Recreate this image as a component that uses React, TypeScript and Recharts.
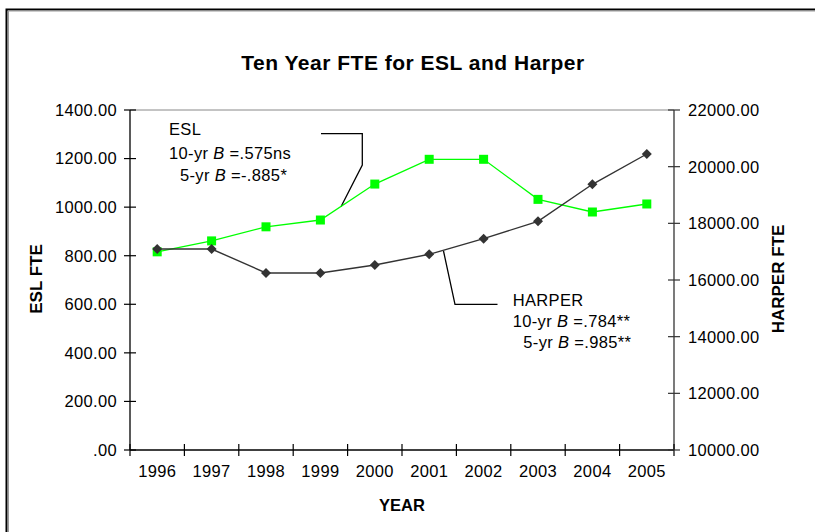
import React from 'react';
import { LineChart, Line, XAxis, YAxis, ReferenceLine } from 'recharts';

const years = ['1996', '1997', '1998', '1999', '2000', '2001', '2002', '2003', '2004', '2005'];
const eslFte = [816, 861, 919, 947, 1095, 1197, 1197, 1032, 980, 1013];
const harperFte = [17094, 17094, 16247, 16247, 16529, 16907, 17458, 18072, 19378, 20447];
const eslTicks = [0, 200, 400, 600, 800, 1000, 1200, 1400];
const harperTicks = [10000, 12000, 14000, 16000, 18000, 20000, 22000];

const data = years.map((year, i) => ({ year, esl: eslFte[i], harper: harperFte[i] }));

const W = 815;
const H = 532;
const MARGIN = { top: 110, right: 61, bottom: 52, left: 50 };
const YW = 80;
const XH = 30;
const PLOT_LEFT = MARGIN.left + YW;
const PLOT_RIGHT = W - MARGIN.right - YW;
const HALF_BAND = (PLOT_RIGHT - PLOT_LEFT) / years.length / 2;
const TICK = 6;
const FONT = '"Liberation Sans", Arial, sans-serif';

const fmt = (v: number) => (v === 0 ? '.00' : v.toFixed(2));

const textStyle = { fontFamily: FONT, fontSize: 16.5, letterSpacing: 0.35, fill: '#000' } as any;

const LeftTick = (props: any) => {
  const { x, y, payload } = props;
  const ax = x + 7 + TICK;
  return (
    <g>
      <line x1={ax - TICK} x2={ax + TICK} y1={y} y2={y} stroke="#000" strokeWidth={1.2} />
      <text x={x} y={y} dy="0.355em" textAnchor="end" style={textStyle}>{fmt(payload.value)}</text>
    </g>
  );
};

const RightTick = (props: any) => {
  const { x, y, payload } = props;
  const ax = x - 8 - TICK;
  return (
    <g>
      <line x1={ax - TICK} x2={ax + TICK} y1={y} y2={y} stroke="#333" strokeWidth={1.2} />
      <text x={x} y={y} dy="0.355em" textAnchor="start" style={textStyle}>{fmt(payload.value)}</text>
    </g>
  );
};

const BottomTick = (props: any) => {
  const { x, y, payload, index } = props;
  const ay = y - 15 - TICK;
  return (
    <g>
      <line x1={x - HALF_BAND} x2={x - HALF_BAND} y1={ay - TICK} y2={ay + TICK} stroke="#000" strokeWidth={1.2} />
      {index === years.length - 1 ? (
        <line x1={x + HALF_BAND} x2={x + HALF_BAND} y1={ay - TICK} y2={ay + TICK} stroke="#000" strokeWidth={1.2} />
      ) : null}
      <text x={x} y={y} dy="0.355em" textAnchor="middle" style={textStyle}>{payload.value}</text>
    </g>
  );
};

const SquareDot = (props: any) => {
  const { cx, cy, index } = props;
  if (cx == null || cy == null) return <g key={`s-${index}`} />;
  return <rect key={`s-${index}`} x={cx - 4.5} y={cy - 4.5} width={9} height={9} fill="#00FF00" />;
};

const DiamondDot = (props: any) => {
  const { cx, cy, index } = props;
  if (cx == null || cy == null) return <g key={`d-${index}`} />;
  const r = 5;
  return (
    <polygon
      key={`d-${index}`}
      points={`${cx},${cy - r} ${cx + r},${cy} ${cx},${cy + r} ${cx - r},${cy}`}
      fill="#333333"
    />
  );
};

export default function App() {
  return (
    <div style={{ position: 'absolute', left: 0, top: 0, width: W, height: H, fontFamily: FONT, background: '#fff' }}>
      <LineChart width={W} height={H} data={data} margin={MARGIN}>
        <rect x={6.5} y={9.5} width={900} height={700} fill="none" stroke="#000" strokeWidth={2} />
        <rect x={8.5} y={11} width={900} height={700} fill="none" stroke="#999" strokeWidth={1} />
        <text x={413} y={69.5} textAnchor="middle" style={{ fontFamily: FONT, fontSize: 21, fontWeight: 'bold', letterSpacing: 0.5, fill: '#000' }}>
          Ten Year FTE for ESL and Harper
        </text>
        <XAxis
          dataKey="year"
          scale="band"
          height={XH}
          interval={0}
          tickSize={TICK}
          tickMargin={15}
          tickLine={false}
          axisLine={{ stroke: '#000', strokeWidth: 1.3 }}
          tick={<BottomTick />}
        />
        <YAxis
          yAxisId="left"
          width={YW}
          domain={[0, 1400]}
          ticks={eslTicks}
          interval={0}
          tickSize={TICK}
          tickMargin={7}
          tickLine={false}
          axisLine={{ stroke: '#000', strokeWidth: 1.3 }}
          tick={<LeftTick />}
        />
        <YAxis
          yAxisId="right"
          orientation="right"
          width={YW}
          domain={[10000, 22000]}
          ticks={harperTicks}
          interval={0}
          tickSize={TICK}
          tickMargin={8}
          tickLine={false}
          axisLine={{ stroke: '#333', strokeWidth: 1.3 }}
          tick={<RightTick />}
        />
        <ReferenceLine yAxisId="left" y={1400} stroke="#888" strokeWidth={1} />
        <Line
          yAxisId="left"
          dataKey="esl"
          stroke="#00FF00"
          strokeWidth={1.3}
          dot={SquareDot}
          activeDot={false}
          isAnimationActive={false}
        />
        <Line
          yAxisId="right"
          dataKey="harper"
          stroke="#333333"
          strokeWidth={1.4}
          dot={DiamondDot}
          activeDot={false}
          isAnimationActive={false}
        />
        <text x={36} y={279} transform="rotate(-90 36 279)" textAnchor="middle" dy="0.355em" style={{ fontFamily: FONT, fontSize: 17, fontWeight: 'bold', fill: '#000' }}>
          ESL FTE
        </text>
        <text x={778} y={279} transform="rotate(-90 778 279)" textAnchor="middle" dy="0.355em" style={{ fontFamily: FONT, fontSize: 17, fontWeight: 'bold', fill: '#000' }}>
          HARPER FTE
        </text>
        <text x={402} y={505} textAnchor="middle" dy="0.355em" style={{ fontFamily: FONT, fontSize: 16.5, fontWeight: 'bold', fill: '#000' }}>
          YEAR
        </text>
        <polyline points="321,133.7 362.3,133.7 362.3,165 341,206.7" fill="none" stroke="#000" strokeWidth={1.3} />
        <polyline points="443.5,251 455,304.3 497.5,304.3" fill="none" stroke="#000" strokeWidth={1.3} />
        <text x={169} y={135} style={textStyle}>ESL</text>
        <text x={169} y={158.5} style={textStyle}>
          10-yr <tspan fontStyle="italic">B</tspan> =.575ns
        </text>
        <text x={180} y={181} style={textStyle}>
          5-yr <tspan fontStyle="italic">B</tspan> =-.885*
        </text>
        <text x={512.7} y={305.7} style={textStyle}>HARPER</text>
        <text x={512.7} y={326.5} style={textStyle}>
          10-yr <tspan fontStyle="italic">B</tspan> =.784**
        </text>
        <text x={523.3} y={347.5} style={textStyle}>
          5-yr <tspan fontStyle="italic">B</tspan> =.985**
        </text>
      </LineChart>
    </div>
  );
}
